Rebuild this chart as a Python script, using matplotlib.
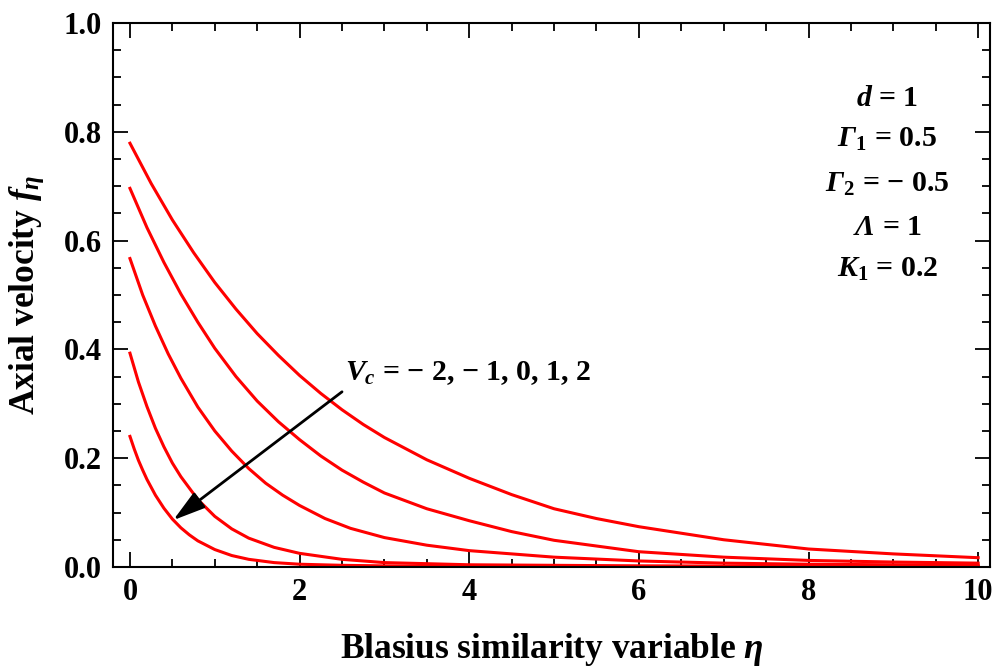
"""
Axial velocity profiles f_eta against the Blasius similarity variable
for several values of Vc (d = 1, Gamma1 = 0.5, Gamma2 = -0.5, Lambda = 1, K1 = 0.2).
"""
import matplotlib
matplotlib.use("Agg")
import matplotlib.pyplot as plt
from matplotlib.ticker import MultipleLocator

plt.rcParams["font.family"] = "Liberation Serif"
plt.rcParams["font.weight"] = "bold"
plt.rcParams["axes.labelweight"] = "bold"
plt.rcParams["mathtext.fontset"] = "custom"
plt.rcParams["mathtext.rm"] = "Liberation Serif:bold"
plt.rcParams["mathtext.it"] = "Liberation Serif:italic:bold"
plt.rcParams["mathtext.bf"] = "Liberation Serif:bold"
# sf slot used for italic capital Greek (Gamma, Lambda)
plt.rcParams["mathtext.sf"] = "Liberation Serif:italic:bold"

# f_eta profiles, one per Vc value
eta_vc_m2 = [0, 0.25, 0.5, 0.75, 1, 1.25, 1.5, 1.75, 2, 2.25, 2.5, 2.75, 3, 3.5, 4,
             4.5, 5, 5.5, 6, 7, 8, 9, 10]
f_vc_m2 = [0.779, 0.705, 0.638, 0.578, 0.523, 0.474, 0.429, 0.389, 0.352, 0.319,
           0.289, 0.262, 0.238, 0.197, 0.163, 0.133, 0.107, 0.089, 0.074, 0.050,
           0.033, 0.024, 0.017]

eta_vc_m1 = [0, 0.2, 0.4, 0.6, 0.8, 1.0, 1.25, 1.5, 1.75, 2, 2.25, 2.5, 2.75, 3, 3.5,
             4, 4.5, 5, 6, 7, 8, 9, 10]
f_vc_m1 = [0.696, 0.624, 0.560, 0.502, 0.450, 0.402, 0.350, 0.305, 0.267, 0.234,
           0.204, 0.178, 0.156, 0.136, 0.107, 0.085, 0.065, 0.049, 0.028, 0.018,
           0.012, 0.009, 0.007]

eta_vc_0 = [0, 0.15, 0.3, 0.45, 0.6, 0.8, 1.0, 1.2, 1.4, 1.6, 1.8, 2.0, 2.3, 2.6, 3,
            3.5, 4, 5, 6, 7, 8, 10]
f_vc_0 = [0.567, 0.500, 0.443, 0.392, 0.347, 0.294, 0.250, 0.213, 0.181, 0.154,
          0.132, 0.113, 0.089, 0.071, 0.054, 0.040, 0.030, 0.018, 0.011, 0.007,
          0.005, 0.003]

eta_vc_p1 = [0, 0.1, 0.2, 0.3, 0.4, 0.5, 0.6, 0.8, 1.0, 1.2, 1.4, 1.7, 2, 2.5, 3, 4,
             5, 6, 8, 10]
f_vc_p1 = [0.393, 0.340, 0.295, 0.255, 0.221, 0.191, 0.166, 0.124, 0.093, 0.070,
           0.053, 0.036, 0.025, 0.014, 0.008, 0.004, 0.003, 0.002, 0.001, 0.001]

eta_vc_p2 = [0, 0.05, 0.1, 0.15, 0.2, 0.3, 0.4, 0.5, 0.6, 0.7, 0.8, 1.0, 1.2, 1.4,
             1.7, 2, 2.5, 3, 4, 6, 10]
f_vc_p2 = [0.240, 0.217, 0.196, 0.178, 0.161, 0.132, 0.108, 0.088, 0.072, 0.059,
           0.048, 0.032, 0.021, 0.014, 0.008, 0.005, 0.003, 0.002, 0.001, 0.001,
           0.001]

profiles = [
    (eta_vc_m2, f_vc_m2),
    (eta_vc_m1, f_vc_m1),
    (eta_vc_0, f_vc_0),
    (eta_vc_p1, f_vc_p1),
    (eta_vc_p2, f_vc_p2),
]

param_lines = [
    r"$d$ = 1",
    r"$\mathsf{\Gamma}_1$ = 0.5",
    "$\\mathsf{\\Gamma}_2$ = \u2212 0.5",
    r"$\mathsf{\Lambda}$ = 1",
    r"$K_1$ = 0.2",
]
param_y = [0.847, 0.772, 0.689, 0.610, 0.533]
vc_label = "$V_c$ = \u2212 2, \u2212 1, 0, 1, 2"

fig = plt.figure(figsize=(9.93, 6.67), dpi=100)
ax = fig.add_axes([0.1138, 0.150, 0.8832, 0.8155])

for eta, f in profiles:
    ax.plot(eta, f, color="#ff0000", lw=2.2, solid_joinstyle="round")

ax.set_xlim(-0.2, 10.14)
ax.set_ylim(0, 1.0)

ax.xaxis.set_major_locator(MultipleLocator(2))
ax.xaxis.set_minor_locator(MultipleLocator(0.5))
ax.yaxis.set_major_locator(MultipleLocator(0.2))
ax.yaxis.set_minor_locator(MultipleLocator(0.05))
ax.yaxis.set_major_formatter(plt.FuncFormatter(lambda v, p: f"{v:.1f}"))

ax.tick_params(which="both", direction="in", top=True, right=True, width=1.3,
               labelsize=22)
ax.tick_params(which="major", length=11, pad=8)
ax.tick_params(which="minor", length=6)
for sp in ax.spines.values():
    sp.set_linewidth(1.5)

ax.set_xlabel(r"Blasius similarity variable $\eta$", fontsize=25.5)
ax.set_ylabel(r"Axial velocity $f_\eta$", fontsize=25.5)
ax.xaxis.set_label_coords(0.5, -0.118)
ax.yaxis.set_label_coords(-0.076, 0.5)

for txt, yv in zip(param_lines, param_y):
    ax.text(8.93, yv, txt, ha="center", va="baseline", fontsize=21.5)

ax.text(2.54, 0.344, vc_label, ha="left", va="baseline", fontsize=21.5)
ax.annotate("", xy=(0.51, 0.086), xytext=(2.50, 0.322),
            arrowprops=dict(arrowstyle="-|>,head_length=1.1,head_width=0.32",
                            color="black", lw=2.0, mutation_scale=18,
                            shrinkA=0, shrinkB=0))

fig.savefig("out.png", dpi=100)
